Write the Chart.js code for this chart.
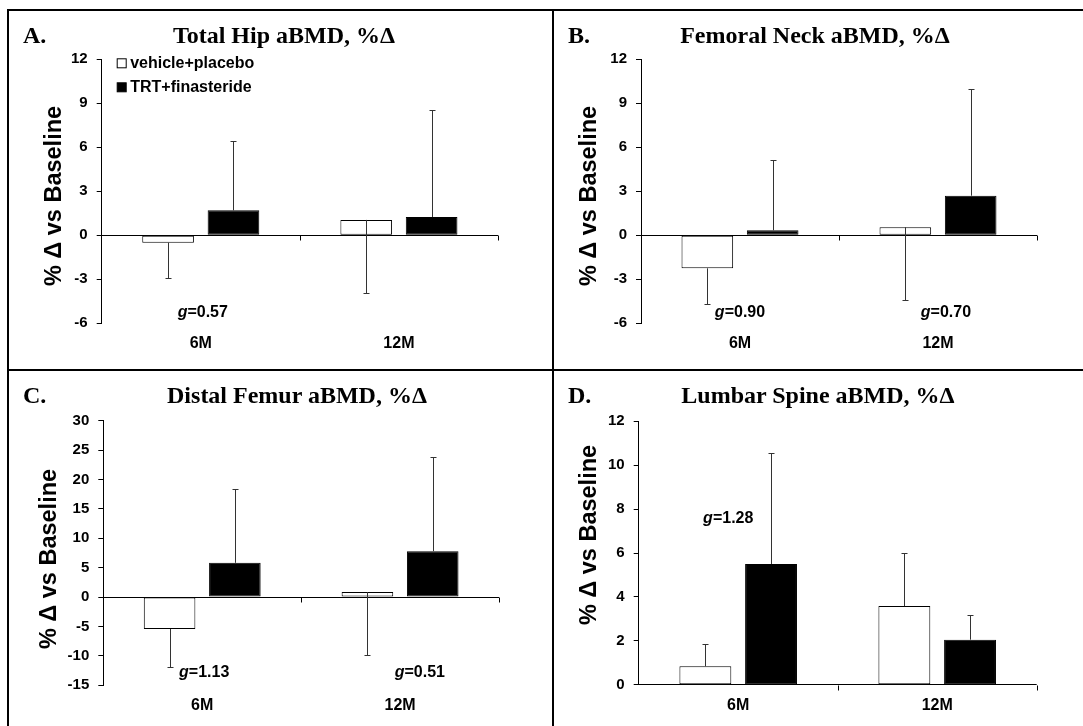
<!DOCTYPE html>
<html>
<head>
<meta charset="utf-8">
<script src="https://cdn.jsdelivr.net/npm/chart.js@4"></script>
<style>
  body { margin: 0; background: #fff; }
  #wrap { position: relative; width: 1083px; height: 726px; overflow: hidden; background: #fff; }
  canvas { position: absolute; }
  .line { position: absolute; background: #000; }
  .ttl { position: absolute; font: bold 24px "Liberation Serif", "Times New Roman", serif; line-height: 24px; white-space: nowrap; color: #000; }
  .mid { transform: translateX(-50%); }
</style>
</head>
<body>
<div id="wrap">
  <canvas id="cA" width="541" height="363" style="left:0;top:0"></canvas>
  <canvas id="cB" width="541" height="363" style="left:541px;top:0"></canvas>
  <canvas id="cC" width="541" height="363" style="left:0;top:363px"></canvas>
  <canvas id="cD" width="541" height="363" style="left:541px;top:363px"></canvas>

  <div class="line" style="left:7px;top:9px;width:1076px;height:2px"></div>
  <div class="line" style="left:7px;top:9px;width:2px;height:717px"></div>
  <div class="line" style="left:552px;top:9px;width:2px;height:717px"></div>
  <div class="line" style="left:7px;top:369px;width:1076px;height:2px"></div>

  <div class="ttl" style="left:23px;top:23px">A.</div>
  <div class="ttl mid" style="left:284px;top:23px">Total Hip aBMD, %Δ</div>
  <div class="ttl" style="left:568px;top:23px">B.</div>
  <div class="ttl mid" style="left:815px;top:23px">Femoral Neck aBMD, %Δ</div>
  <div class="ttl" style="left:23px;top:383px">C.</div>
  <div class="ttl mid" style="left:297px;top:383px">Distal Femur aBMD, %Δ</div>
  <div class="ttl" style="left:568px;top:383px">D.</div>
  <div class="ttl mid" style="left:818px;top:383px">Lumbar Spine aBMD, %Δ</div>
</div>
<script>
const categories = ["6M", "12M"];
const seriesNames = ["vehicle+placebo", "TRT+finasteride"];
const yTitle = "% Δ vs Baseline";

// mean % change and SD (error bar length)
const hipVehicle = [-0.5, 1.05];
const hipVehicleSD = [2.4, 4.95];
const hipTrt = [1.7, 1.25];
const hipTrtSD = [4.75, 7.3];
const hipTicks = [-6, 12, 3];
const hipG = ["0.57", null];

const neckVehicle = [-2.25, 0.55];
const neckVehicleSD = [2.45, 4.96];
const neckTrt = [0.34, 2.7];
const neckTrtSD = [4.77, 7.3];
const neckTicks = [-6, 12, 3];
const neckG = ["0.90", "0.70"];

const femurVehicle = [-5.43, 0.85];
const femurVehicleSD = [6.45, 10.7];
const femurTrt = [5.83, 7.81];
const femurTrtSD = [12.56, 15.96];
const femurTicks = [-15, 30, 5];
const femurG = ["1.13", "0.51"];

const spineVehicle = [0.84, 3.58];
const spineVehicleSD = [1.01, 2.42];
const spineTrt = [5.5, 2.05];
const spineTrtSD = [5.06, 1.12];
const spineTicks = [0, 12, 2];
const spineG = ["1.28", null];

const sans = "'Liberation Sans', Arial, sans-serif";

const panels = [
  { id: "cA", veh: hipVehicle, vehSD: hipVehicleSD, vehDir: -1, trt: hipTrt, trtSD: hipTrtSD, ticks: hipTicks,
    g: hipG, gPos: [[0.01, -5.25], null], box: [101.7, 498, 59.3, 323.3], yt: [55, 196], legend: true },
  { id: "cB", veh: neckVehicle, vehSD: neckVehicleSD, vehDir: -1, trt: neckTrt, trtSD: neckTrtSD, ticks: neckTicks,
    g: neckG, gPos: [[0, -5.25], [1.04, -5.25]], box: [100, 496, 59.3, 323.3], yt: [49, 196] },
  { id: "cC", veh: femurVehicle, vehSD: femurVehicleSD, vehDir: -1, trt: femurTrt, trtSD: femurTrtSD, ticks: femurTicks,
    g: femurG, gPos: [[0.01, -12.85], [1.1, -12.85]], box: [103.3, 499, 57.7, 322.3], yt: [50, 196] },
  { id: "cD", veh: spineVehicle, vehSD: spineVehicleSD, vehDir: 1, trt: spineTrt, trtSD: spineTrtSD, ticks: spineTicks,
    g: spineG, gPos: [[-0.05, 7.55], null], box: [97.7, 495.7, 58.3, 321.7], yt: [49, 172] },
];

const extras = {
  id: "extras",
  afterDatasetsDraw(chart) {
    const { ctx, scales: { x, y } } = chart;
    const p = chart.options.panel;
    const zero = Math.round(y.getPixelForValue(0)) + 0.5;
    ctx.save();

    // category boundary ticks on the zero line
    ctx.strokeStyle = "#000";
    ctx.lineWidth = 1;
    for (let i = 1; i <= categories.length; i++) {
      const px = Math.round(x.getPixelForValue(i - 0.5)) + 0.5;
      ctx.beginPath();
      ctx.moveTo(px, zero);
      ctx.lineTo(px, zero + 5);
      ctx.stroke();
    }

    // error bars (one-sided)
    ctx.strokeStyle = "#333";
    chart.data.datasets.forEach((ds, d) => {
      chart.getDatasetMeta(d).data.forEach((bar, i) => {
        const end = ds.data[i] + ds.errDir * ds.err[i];
        const bx = Math.round(bar.x) + 0.5;
        const ey = Math.round(y.getPixelForValue(end)) + 0.5;
        ctx.beginPath();
        ctx.moveTo(bx, bar.y);
        ctx.lineTo(bx, ey);
        ctx.moveTo(bx - 3, ey);
        ctx.lineTo(bx + 3, ey);
        ctx.stroke();
      });
    });

    // effect size labels
    ctx.fillStyle = "#000";
    ctx.textBaseline = "middle";
    ctx.textAlign = "left";
    p.g.forEach((val, i) => {
      if (!val || !p.gPos[i]) return;
      const cx = x.getPixelForValue(p.gPos[i][0]);
      const cy = y.getPixelForValue(p.gPos[i][1]);
      const rest = "=" + val;
      ctx.font = "italic bold 16px " + sans;
      const wg = ctx.measureText("g").width;
      ctx.font = "bold 16px " + sans;
      const wr = ctx.measureText(rest).width;
      const sx = cx - (wg + wr) / 2;
      ctx.font = "italic bold 16px " + sans;
      ctx.fillText("g", sx, cy);
      ctx.font = "bold 16px " + sans;
      ctx.fillText(rest, sx + wg, cy);
    });

    // legend
    if (p.legend) {
      const a = chart.chartArea;
      ctx.font = "bold 16px " + sans;
      chart.data.datasets.forEach((ds, d) => {
        const ly = a.top + 4 + d * 24;
        ctx.fillStyle = ds.backgroundColor;
        ctx.fillRect(a.left + 15.5, ly - 4.5, 9, 9);
        ctx.strokeStyle = "#000";
        ctx.strokeRect(a.left + 15.5, ly - 4.5, 9, 9);
        ctx.fillStyle = "#000";
        ctx.fillText(ds.label, a.left + 28.5, ly);
      });
    }

    // y axis title
    ctx.translate(p.yt[0], p.yt[1]);
    ctx.rotate(-Math.PI / 2);
    ctx.textAlign = "center";
    ctx.font = "bold 23.5px " + sans;
    ctx.fillStyle = "#000";
    ctx.fillText(yTitle, 0, 0);
    ctx.restore();
  },
};

panels.forEach((p) => {
  const el = document.getElementById(p.id);
  const W = el.width, H = el.height;
  const [l, r, t, b] = p.box;
  new Chart(el, {
    type: "bar",
    data: {
      labels: categories,
      datasets: [
        { label: seriesNames[0], data: p.veh, err: p.vehSD, errDir: p.vehDir,
          backgroundColor: "#fff", borderColor: "#000", borderWidth: 1, borderSkipped: false,
          categoryPercentage: 0.66, barPercentage: 0.79 },
        { label: seriesNames[1], data: p.trt, err: p.trtSD, errDir: 1,
          backgroundColor: "#000", borderColor: "#000", borderWidth: 1, borderSkipped: false,
          categoryPercentage: 0.66, barPercentage: 0.79 },
      ],
    },
    options: {
      panel: p,
      responsive: false,
      animation: false,
      devicePixelRatio: 1,
      layout: { padding: { left: l - 40, right: W - r, top: t, bottom: H - b - 40 } },
      plugins: { legend: { display: false }, tooltip: { enabled: false }, title: { display: false } },
      scales: {
        x: {
          grid: { display: false, drawTicks: false },
          border: { display: false },
          ticks: { color: "#000", font: { family: sans, size: 16, weight: "bold" }, padding: 11 },
          afterFit: (s) => { s.height = 40; },
        },
        y: {
          min: p.ticks[0],
          max: p.ticks[1],
          ticks: { stepSize: p.ticks[2], color: "#000", font: { family: sans, size: 15, weight: "bold" }, padding: 9 },
          grid: {
            color: (c) => (c.tick && c.tick.value === 0 ? "#000" : "rgba(0,0,0,0)"),
            tickColor: "#000",
            tickLength: 5,
            lineWidth: 1,
          },
          border: { display: true, color: "#000", width: 1 },
          afterFit: (s) => { s.width = 40; },
        },
      },
    },
    plugins: [extras],
  });
});
</script>
</body>
</html>
